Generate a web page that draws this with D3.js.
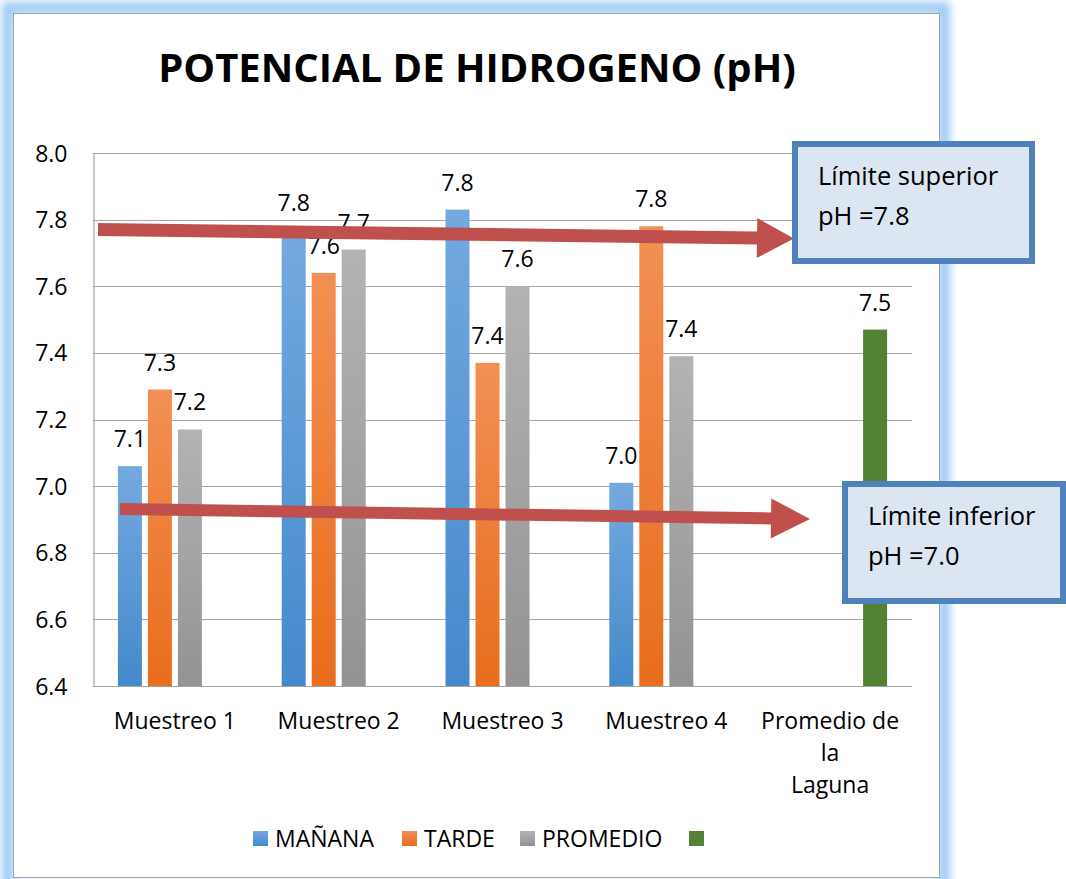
<!DOCTYPE html>
<html>
<head>
<meta charset="utf-8">
<script src="https://cdn.jsdelivr.net/npm/d3@7"></script>
<style>
  body { margin: 0; background: #fff; }
  text { font-family: "Open Sans", "Noto Sans", sans-serif; fill: #000; }
</style>
</head>
<body>
<div id="chart"></div>
<script>
// pH per sampling
const categories = ["Muestreo 1", "Muestreo 2", "Muestreo 3", "Muestreo 4", "Promedio de la Laguna"];
const seriesNames = ["MAÑANA", "TARDE", "PROMEDIO", ""];
const manana   = [7.06, 7.77, 7.83, 7.01, null];
const tarde    = [7.29, 7.64, 7.37, 7.78, null];
const promedio = [7.17, 7.71, 7.60, 7.39, null];
const laguna   = [null, null, null, null, 7.47];
const yTicks = [6.4, 6.6, 6.8, 7.0, 7.2, 7.4, 7.6, 7.8, 8.0];
const limits = [
  { label: "Límite superior", value: "pH =7.8" },
  { label: "Límite inferior", value: "pH =7.0" }
];

const width = 1066, height = 879;
const margin = { left: 93, right: 912, top: 153, bottom: 686 };

const svg = d3.select("#chart").append("svg")
  .attr("width", width)
  .attr("height", height);

const defs = svg.append("defs");
defs.append("filter").attr("id", "glow")
  .attr("x", "-5%").attr("y", "-5%").attr("width", "110%").attr("height", "110%")
  .append("feGaussianBlur").attr("stdDeviation", 4);

// bar gradients (lighter at top)
const grads = [
  ["g0", "#74a9df", "#4589cc"],
  ["g1", "#f29055", "#e86d1c"],
  ["g2", "#b3b3b3", "#939393"],
  ["g3", "#548235", "#548235"]
];
grads.forEach(g => {
  const lg = defs.append("linearGradient").attr("id", g[0])
    .attr("x1", 0).attr("y1", 0).attr("x2", 0).attr("y2", 1);
  lg.append("stop").attr("offset", "0%").attr("stop-color", g[1]);
  lg.append("stop").attr("offset", "100%").attr("stop-color", g[2]);
});

// chart frame with blue glow
svg.append("rect")
  .attr("x", 8).attr("y", 8).attr("width", 936).attr("height", 880)
  .attr("fill", "none").attr("stroke", "#9dcbf6").attr("stroke-width", 12)
  .attr("filter", "url(#glow)");
svg.append("rect")
  .attr("x", 13.5).attr("y", 13.5).attr("width", 926).attr("height", 864)
  .attr("fill", "#fff").attr("stroke", "#a0a0a0").attr("stroke-width", 1);

// title
svg.append("text")
  .attr("x", 477).attr("y", 82)
  .attr("text-anchor", "middle")
  .style("font-size", "40px").style("font-weight", "bold")
  .text("POTENCIAL DE HIDROGENO (pH)");

const y = d3.scaleLinear().domain([6.4, 8.0]).range([margin.bottom, margin.top]);
const x0 = d3.scaleBand().domain(categories).range([margin.left, margin.right]);
const x1 = d3.scaleBand().domain(d3.range(4)).range([x0.bandwidth() / 2 - 57, x0.bandwidth() / 2 + 57])
  .paddingInner(0.2);

// grid
svg.append("g")
  .selectAll("line").data(yTicks).join("line")
  .attr("x1", margin.left).attr("x2", margin.right)
  .attr("y1", d => Math.round(y(d)) + 0.5).attr("y2", d => Math.round(y(d)) + 0.5)
  .attr("stroke", "#a6a6a6").attr("stroke-width", 1.2);

// y axis
const yAxis = svg.append("g")
  .attr("transform", `translate(${margin.left + 0.5},0)`)
  .call(d3.axisLeft(y).tickValues(yTicks).tickFormat(d3.format(".1f")).tickSize(0).tickPadding(26));
yAxis.select(".domain").attr("stroke", "#a6a6a6").attr("stroke-width", 1.2);
yAxis.selectAll("text").style("font-size", "23px").attr("dy", "0.35em");

// bars
const series = [manana, tarde, promedio, laguna];
const groups = svg.append("g").selectAll("g").data(series).join("g");
groups.each(function (vals, si) {
  const items = vals.map((v, ci) => ({ v, c: categories[ci] })).filter(d => d.v != null);
  const g = d3.select(this);
  g.selectAll("rect").data(items).join("rect")
    .attr("x", d => x0(d.c) + x1(si))
    .attr("width", x1.bandwidth())
    .attr("y", d => y(d.v))
    .attr("height", d => y(6.4) - y(d.v))
    .attr("fill", `url(#g${si})`);
});

// data labels
groups.each(function (vals, si) {
  const items = vals.map((v, ci) => ({ v, c: categories[ci] })).filter(d => d.v != null);
  d3.select(this).selectAll("text").data(items).join("text")
    .attr("x", d => x0(d.c) + x1(si) + x1.bandwidth() / 2)
    .attr("y", d => y(d.v) - 19)
    .attr("text-anchor", "middle")
    .style("font-size", "23px")
    .text(d => d3.format(".1f")(d.v));
});

// x axis
svg.append("line")
  .attr("x1", margin.left).attr("x2", margin.right)
  .attr("y1", margin.bottom + 0.5).attr("y2", margin.bottom + 0.5)
  .attr("stroke", "#a6a6a6").attr("stroke-width", 1.2);
const xLabelLines = [["Muestreo 1"], ["Muestreo 2"], ["Muestreo 3"], ["Muestreo 4"], ["Promedio de", "la", "Laguna"]];
svg.append("g").selectAll("text").data(categories).join("text")
  .attr("x", d => x0(d) + x0.bandwidth() / 2)
  .attr("y", 729)
  .attr("text-anchor", "middle")
  .style("font-size", "23px")
  .each(function (d, i) {
    d3.select(this).selectAll("tspan").data(xLabelLines[i]).join("tspan")
      .attr("x", x0(d) + x0.bandwidth() / 2)
      .attr("dy", (t, j) => j === 0 ? 0 : 32)
      .text(t => t);
  });

// legend
const legendX = [253, 402, 520, 689];
const legend = svg.append("g").selectAll("g").data(seriesNames).join("g")
  .attr("transform", (d, i) => `translate(${legendX[i]},831)`);
legend.append("rect").attr("width", 15).attr("height", 15).attr("fill", (d, i) => `url(#g${i})`);
legend.append("text").attr("x", 22).attr("y", 16).style("font-size", "23px").text(d => d);

// arrows pointing to the limit boxes
const arrowColor = "#c0504d";
function arrow(xs, ys, xe, ye, headLen, headHalf, thick) {
  const ang = Math.atan2(ye - ys, xe - xs);
  const ux = Math.cos(ang), uy = Math.sin(ang), nx = -uy, ny = ux;
  const bx = xe - ux * headLen, by = ye - uy * headLen;
  const pts = [
    [xs + nx * thick / 2, ys + ny * thick / 2],
    [bx + nx * thick / 2, by + ny * thick / 2],
    [bx + nx * headHalf, by + ny * headHalf],
    [xe, ye],
    [bx - nx * headHalf, by - ny * headHalf],
    [bx - nx * thick / 2, by - ny * thick / 2],
    [xs - nx * thick / 2, ys - ny * thick / 2]
  ];
  svg.append("polygon").attr("points", pts.map(p => p.join(",")).join(" ")).attr("fill", arrowColor);
}
arrow(98, 229.5, 794, 238.5, 37, 20, 13);
arrow(120, 509, 810, 519, 39, 20, 12);

// limit boxes
const boxes = [
  { x: 795, y: 144, w: 237, h: 117 },
  { x: 845, y: 484, w: 218, h: 117 }
];
const box = svg.append("g").selectAll("g").data(limits).join("g")
  .attr("transform", (d, i) => `translate(${boxes[i].x},${boxes[i].y})`);
box.append("rect")
  .attr("width", (d, i) => boxes[i].w).attr("height", (d, i) => boxes[i].h)
  .attr("fill", "#dce6f2").attr("stroke", "#4f81bd").attr("stroke-width", 6);
box.append("text").attr("x", 23).attr("y", 41).style("font-size", "25.5px").text(d => d.label);
box.append("text").attr("x", 23).attr("y", 81).style("font-size", "25.5px").text(d => d.value);
</script>
</body>
</html>
